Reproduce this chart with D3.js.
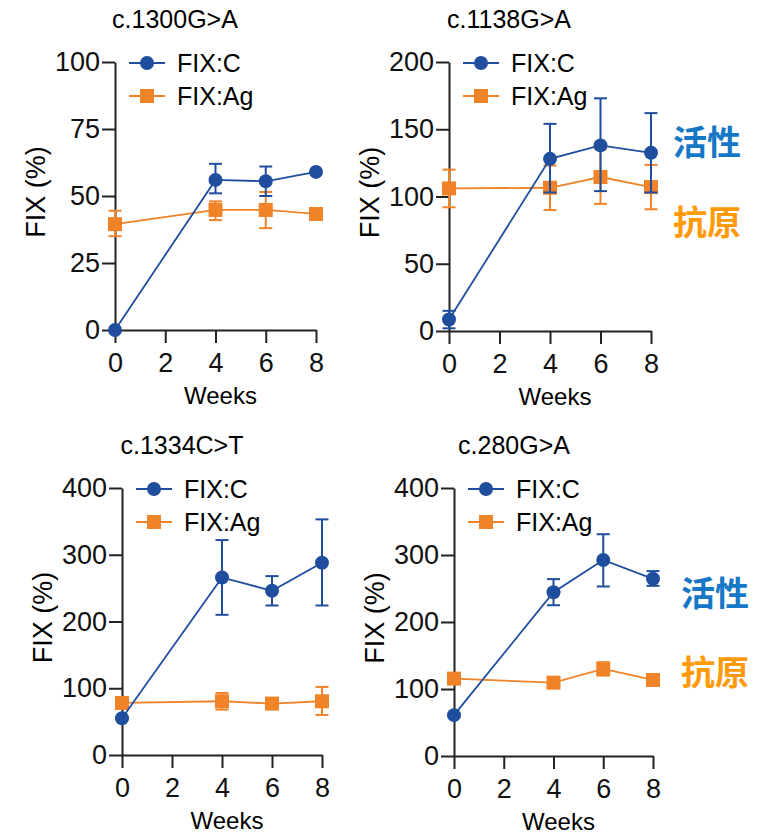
<!DOCTYPE html>
<html>
<head>
<meta charset="utf-8">
<script src="https://cdn.jsdelivr.net/npm/d3@7"></script>
<style>
    body { margin: 0; background: #fff; }
    svg { display: block; font-family: Arial, "Liberation Sans", sans-serif; }
</style>
</head>
<body>
<svg id="chart" width="769" height="834"></svg>
<script>
const weeks = [0, 4, 6, 8]
const xTicks = [0, 2, 4, 6, 8]
const titles = ['c.1300G>A', 'c.1138G>A', 'c.1334C>T', 'c.280G>A']
const yMax = [100, 200, 400, 400]
const yTicks = [
    [0, 25, 50, 75, 100],
    [0, 50, 100, 150, 200],
    [0, 100, 200, 300, 400],
    [0, 100, 200, 300, 400]
]
const seriesNames = ['FIX:C', 'FIX:Ag']

// FIX:C (activity), mean and error bar ends
const fixC   = [[0, 56, 55.5, 59], [8.5, 128, 138, 132.5], [55, 266, 246, 288], [61, 244.5, 292.5, 264.5]]
const fixCHi = [[0, 62, 61, 59], [15, 154, 173, 162], [55, 322, 268, 353], [61, 264, 331, 276]]
const fixCLo = [[0, 51, 50, 59], [2, 103, 104, 103], [55, 210, 224, 224], [61, 225, 253, 254]]

// FIX:Ag (antigen)
const fixAg   = [[39.5, 44.8, 44.8, 43.3], [106, 106.5, 114.5, 107], [78, 80.5, 77, 80.5], [115.5, 109.5, 130, 113.5]]
const fixAgHi = [[44.5, 48, 51.5, 43.3], [120, 123, 135.5, 123.5], [78, 93, 77, 102], [115.5, 109.5, 140, 113.5]]
const fixAgLo = [[35, 41, 38, 43.3], [92, 90, 94.5, 90.5], [78, 68, 77, 60], [115.5, 109.5, 120, 113.5]]

const sideLabels = ['活性', '抗原']

const blue = '#1f4e9e'
const orange = '#f08328'

// plot frames: left, right, top, bottom of the data area
const frames = [
    {x0: 115, x1: 316, y0: 62, y1: 330},
    {x0: 449, x1: 651, y0: 62, y1: 331},
    {x0: 122, x1: 322, y0: 488, y1: 755},
    {x0: 454, x1: 653, y0: 488, y1: 756}
]

const svg = d3.select('#chart')

function drawPanel(i) {
    const f = frames[i]
    const x = d3.scaleLinear().domain([0, 8]).range([f.x0, f.x1])
    const y = d3.scaleLinear().domain([0, yMax[i]]).range([f.y1, f.y0])
    const g = svg.append('g')

    const xAxis = g.append('g')
        .attr('transform', `translate(0, ${f.y1})`)
        .call(d3.axisBottom(x).tickValues(xTicks).tickSize(13).tickSizeOuter(0).tickPadding(10))
    const yAxis = g.append('g')
        .attr('transform', `translate(${f.x0}, 0)`)
        .call(d3.axisLeft(y).tickValues(yTicks[i]).tickSize(13).tickSizeOuter(0).tickPadding(2))
    for (const ax of [xAxis, yAxis]) {
        ax.selectAll('path, line').attr('stroke', '#222').attr('stroke-width', 2)
        ax.selectAll('text').attr('fill', '#111').style('font-size', '27px').style('font-family', 'Arial, "Liberation Sans", sans-serif')
    }

    g.append('text')
        .attr('x', f.x0 + 60).attr('y', f.y0 - 34)
        .attr('text-anchor', 'middle')
        .style('font-size', '25px')
        .text(titles[i])

    g.append('text')
        .attr('transform', `translate(${f.x0 - 70}, ${(f.y0 + f.y1) / 2 - 4}) rotate(-90)`)
        .attr('text-anchor', 'middle')
        .style('font-size', '27px')
        .text('FIX (%)')

    g.append('text')
        .attr('x', (f.x0 + f.x1) / 2 + 5).attr('y', f.y1 + 74)
        .attr('text-anchor', 'middle')
        .style('font-size', '24px')
        .text('Weeks')

    const series = [
        {mean: fixAg[i], hi: fixAgHi[i], lo: fixAgLo[i], color: orange, shape: 'square'},
        {mean: fixC[i], hi: fixCHi[i], lo: fixCLo[i], color: blue, shape: 'circle'}
    ]
    const line = d3.line().x((d, j) => x(weeks[j])).y(d => y(d))

    series.forEach(s => {
        const sg = g.append('g')
        sg.append('path')
            .attr('d', line(s.mean))
            .attr('fill', 'none').attr('stroke', s.color).attr('stroke-width', 1.8)

        const bars = weeks.map((w, j) => ({w, hi: s.hi[j], lo: s.lo[j]})).filter(d => d.hi !== d.lo)
        const eb = sg.selectAll('.err').data(bars).enter().append('g')
            .attr('stroke', s.color).attr('stroke-width', 2)
        eb.append('line')
            .attr('x1', d => x(d.w)).attr('x2', d => x(d.w))
            .attr('y1', d => y(d.hi)).attr('y2', d => y(d.lo))
        eb.append('line')
            .attr('x1', d => x(d.w) - 6.5).attr('x2', d => x(d.w) + 6.5)
            .attr('y1', d => y(d.hi)).attr('y2', d => y(d.hi))
        eb.append('line')
            .attr('x1', d => x(d.w) - 6.5).attr('x2', d => x(d.w) + 6.5)
            .attr('y1', d => y(d.lo)).attr('y2', d => y(d.lo))

        if (s.shape === 'circle') {
            sg.selectAll('.pt').data(s.mean).enter().append('circle')
                .attr('cx', (d, j) => x(weeks[j])).attr('cy', d => y(d))
                .attr('r', 7).attr('fill', s.color)
        } else {
            sg.selectAll('.pt').data(s.mean).enter().append('rect')
                .attr('x', (d, j) => x(weeks[j]) - 7).attr('y', d => y(d) - 7)
                .attr('width', 14).attr('height', 14).attr('fill', s.color)
        }
    })

    // legend
    const legend = [
        {name: seriesNames[0], color: blue, shape: 'circle', dy: 1},
        {name: seriesNames[1], color: orange, shape: 'square', dy: 34}
    ]
    legend.forEach(l => {
        const ly = f.y0 + l.dy
        g.append('line')
            .attr('x1', f.x0 + 14).attr('x2', f.x0 + 50)
            .attr('y1', ly).attr('y2', ly)
            .attr('stroke', l.color).attr('stroke-width', 1.8)
        if (l.shape === 'circle') {
            g.append('circle').attr('cx', f.x0 + 32).attr('cy', ly).attr('r', 7).attr('fill', l.color)
        } else {
            g.append('rect').attr('x', f.x0 + 25).attr('y', ly - 7).attr('width', 14).attr('height', 14).attr('fill', l.color)
        }
        g.append('text')
            .attr('x', f.x0 + 62).attr('y', ly)
            .attr('dy', '0.35em')
            .style('font-size', '25px')
            .text(l.name)
    })
}

for (let i = 0; i < frames.length; i++) drawPanel(i)

// Chinese side labels on the right-hand panels
const sideSpots = [
    {x: 673, y: 140}, {x: 673, y: 220},
    {x: 681, y: 591}, {x: 681, y: 670}
]
const sideColors = ['#1677c7', '#ff9a0a']
sideSpots.forEach((p, k) => {
    svg.append('text')
        .attr('x', p.x).attr('y', p.y)
        .attr('dominant-baseline', 'central')
        .style('font-family', '"Noto Sans CJK SC", sans-serif')
        .style('font-weight', 'bold')
        .style('font-size', '34px')
        .attr('fill', sideColors[k % 2])
        .text(sideLabels[k % 2])
})
</script>
</body>
</html>
